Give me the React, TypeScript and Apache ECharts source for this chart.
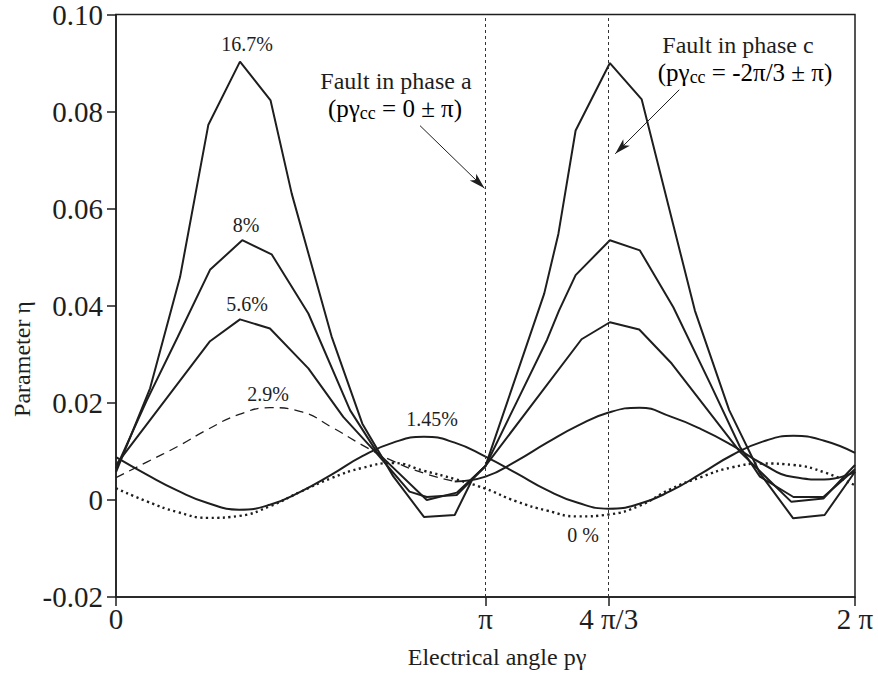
import React, { useEffect, useRef } from "react";
import * as echarts from "echarts";

// x values are electrical angles in degrees (0..360 = 0..2π)
const gridAngles = [0, 15, 30, 45, 60, 75, 90, 105, 120, 135, 150, 165, 180, 195, 210, 225, 240, 255, 270, 285, 300, 315, 330, 345, 360];

const eta145 = [0.0088, 0.0052, 0.0019, -0.0007, -0.0020, -0.0010, 0.0017, 0.0052, 0.0090, 0.0118, 0.0130, 0.0118, 0.0089, 0.0055, 0.0020, -0.0006, -0.0018, -0.0008, 0.0018, 0.0054, 0.0092, 0.0120, 0.0132, 0.0122, 0.0097];
const eta0 = [0.0024, -0.0003, -0.0025, -0.0037, -0.0033, -0.0013, 0.0017, 0.0045, 0.0066, 0.0076, 0.0060, 0.0043, 0.0023, -0.0003, -0.0022, -0.0034, -0.0030, -0.0012, 0.0022, 0.0047, 0.0067, 0.0075, 0.0072, 0.0057, 0.0030];

const eta29DashedAngles = [0, 15, 30, 45, 60, 75, 90, 105, 120, 135, 150, 165];
const eta29Dashed = [0.0046, 0.0078, 0.0110, 0.0146, 0.0176, 0.0190, 0.0182, 0.0150, 0.0113, 0.0080, 0.0055, 0.0038];
const eta29SolidAngles = [165, 180, 195, 210, 225, 240, 255, 270, 285, 300, 315, 330, 345, 360];
const eta29Solid = [0.0038, 0.0048, 0.0080, 0.0118, 0.0153, 0.0180, 0.0190, 0.0172, 0.0146, 0.0113, 0.0074, 0.0047, 0.0042, 0.0058];

const p167Angles = [0, 16.6, 31.2, 45, 60.4, 75.3, 85.6, 105, 120, 135, 150, 165, 173.8, 180, 208.6, 215.5, 223.9, 240.6, 256.1, 282, 298.7, 313.7, 329.9, 345.2, 360];
const p167Values = [0.0057, 0.0230, 0.0459, 0.0773, 0.0903, 0.0823, 0.0631, 0.0337, 0.0157, 0.0049, -0.0035, -0.0031, 0.0044, 0.0070, 0.0425, 0.0548, 0.0761, 0.0900, 0.0825, 0.0390, 0.0185, 0.0055, -0.0038, -0.0031, 0.0058];

const p8Angles = [0, 15, 30, 45.8, 61.5, 75.8, 93.7, 114, 127, 151.4, 166, 180, 195, 210, 215.8, 223.9, 240.6, 255.2, 271.5, 289.4, 304, 313.7, 330, 344.6, 360];
const p8Values = [0.0065, 0.0205, 0.0335, 0.0474, 0.0535, 0.0506, 0.0384, 0.0185, 0.0099, 0.0000, 0.0015, 0.0070, 0.0200, 0.0330, 0.0390, 0.0463, 0.0535, 0.0514, 0.0397, 0.0240, 0.0109, 0.0048, 0.0006, 0.0006, 0.0063];

const p56Angles = [0, 45.8, 60.4, 75, 93.7, 110.7, 127, 143, 151.4, 166, 180, 226.8, 240.6, 254.9, 270.7, 304, 329, 344.6, 360];
const p56Values = [0.0072, 0.0327, 0.0372, 0.0353, 0.0271, 0.0171, 0.0096, 0.0017, 0.0006, 0.0010, 0.0070, 0.0331, 0.0366, 0.0351, 0.0281, 0.0099, -0.0004, 0.0003, 0.0072];

const xTickValues = [0, 180, 240, 360];
const xTickLabels = ["0", "π", "4 π/3", "2 π"];
const faultLines = [180, 240];

const INK = "#1e1e1e";
const SERIF = "'Liberation Serif', 'Times New Roman', serif";

const zip = (xs: number[], ys: number[]) => xs.map((x, i) => [x, ys[i]]);

export default function App() {
  const ref = useRef<HTMLDivElement>(null);
  useEffect(() => {
    if (!ref.current) return;
    const chart = echarts.init(ref.current, undefined, { renderer: "svg" });
    const solid = { color: INK, width: 2 };
    const txt = (text: string, x: number, y: number, size: number, extra: any = {}) => ({
      type: "text",
      x,
      y,
      style: { text, fill: INK, font: `${size}px ${SERIF}`, align: "center", verticalAlign: "middle" },
      silent: true,
      ...extra,
    });
    const rich = {
      a: { fontFamily: SERIF, fontSize: 25, color: INK, lineHeight: 28 },
      s: { fontFamily: SERIF, fontSize: 18, color: INK, lineHeight: 13, verticalAlign: "bottom" },
    };
    chart.setOption({
      animation: false,
      backgroundColor: "#ffffff",
      grid: { left: 116, top: 14, width: 739, height: 583, show: true, borderColor: INK, borderWidth: 1.5 },
      xAxis: {
        type: "value",
        min: 0,
        max: 360,
        axisLine: { onZero: false, lineStyle: { color: INK, width: 1.5 } },
        axisTick: { show: true, length: 9, customValues: xTickValues, lineStyle: { color: INK, width: 1.5 } },
        axisLabel: {
          customValues: xTickValues,
          formatter: (v: number) => xTickLabels[xTickValues.indexOf(Math.round(v))] ?? "",
          fontFamily: SERIF,
          fontSize: 29,
          color: INK,
          margin: 7,
        },
        splitLine: { show: false },
      },
      yAxis: {
        type: "value",
        min: -0.02,
        max: 0.1,
        interval: 0.02,
        axisLine: { show: true, onZero: false, lineStyle: { color: INK, width: 1.5 } },
        axisTick: { show: true, length: 9, lineStyle: { color: INK, width: 1.5 } },
        axisLabel: {
          formatter: (v: number) => (Math.abs(v) < 1e-9 ? "0" : v.toFixed(2)),
          fontFamily: SERIF,
          fontSize: 29,
          color: INK,
          margin: 13,
        },
        splitLine: { show: false },
      },
      series: [
        {
          type: "line",
          name: "16.7%",
          data: zip(p167Angles, p167Values),
          showSymbol: false,
          lineStyle: solid,
          markLine: {
            silent: true,
            symbol: ["none", "none"],
            label: { show: false },
            lineStyle: { color: "#333", width: 1, type: [3, 3] },
            data: faultLines.map((x) => ({ xAxis: x })),
          },
        },
        { type: "line", name: "8%", data: zip(p8Angles, p8Values), showSymbol: false, lineStyle: solid },
        { type: "line", name: "5.6%", data: zip(p56Angles, p56Values), showSymbol: false, lineStyle: solid },
        {
          type: "line",
          name: "2.9% dashed",
          data: zip(eta29DashedAngles, eta29Dashed),
          showSymbol: false,
          smooth: true,
          lineStyle: { color: INK, width: 1.3, type: [9, 6] },
        },
        {
          type: "line",
          name: "2.9%",
          data: zip(eta29SolidAngles, eta29Solid),
          showSymbol: false,
          smooth: true,
          lineStyle: solid,
        },
        { type: "line", name: "1.45%", data: zip(gridAngles, eta145), showSymbol: false, smooth: true, lineStyle: solid },
        {
          type: "line",
          name: "0%",
          data: zip(gridAngles, eta0),
          showSymbol: false,
          smooth: true,
          lineStyle: { color: INK, width: 2.4, type: [2.2, 3.4] },
          markLine: {
            silent: true,
            label: { show: false },
            lineStyle: { color: INK, width: 1, type: "solid" },
            symbolSize: [7, 16],
            data: [
              [
                { coord: [148.1, 0.0771], symbol: "none" },
                { coord: [179.5, 0.0642], symbol: "arrow" },
              ],
              [
                { coord: [274.4, 0.0845], symbol: "none" },
                { coord: [243.2, 0.0713], symbol: "arrow" },
              ],
            ],
          },
        },
      ],
      graphic: [
        txt("16.7%", 247, 44, 20),
        txt("8%", 246, 225, 20),
        txt("5.6%", 247, 304, 20),
        txt("2.9%", 268, 394, 20),
        txt("1.45%", 432, 419, 20),
        txt("0 %", 583, 535, 20),
        txt("Fault in phase a", 396, 81, 24),
        {
          type: "text",
          x: 395,
          y: 108,
          style: { text: "{a|(pγ}{s|cc}{a| = 0 ± π)}", rich, align: "center", verticalAlign: "middle" },
          silent: true,
        },
        txt("Fault in phase c", 738, 45, 24),
        {
          type: "text",
          x: 745,
          y: 72,
          style: { text: "{a|(pγ}{s|cc}{a| = -2π/3 ± π)}", rich, align: "center", verticalAlign: "middle" },
          silent: true,
        },
        txt("Electrical angle pγ", 497, 657, 24),
        txt("Parameter η", 22, 359, 24, { rotation: Math.PI / 2 }),
      ],
    });
    return () => chart.dispose();
  }, []);
  return <div ref={ref} style={{ position: "absolute", left: 0, top: 0, width: 878, height: 674 }} />;
}
